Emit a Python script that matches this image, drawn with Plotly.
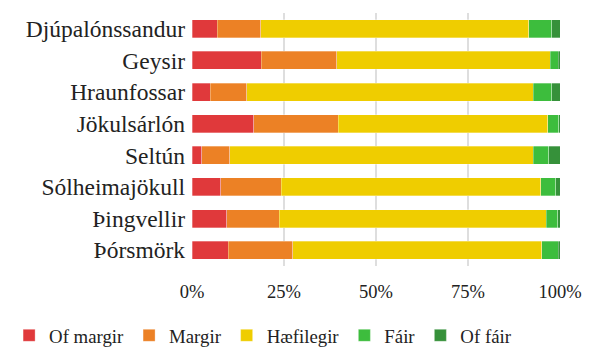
import plotly.graph_objects as go

# Share of answers (%) per site
sites = ["Djúpalónssandur", "Geysir", "Hraunfossar", "Jökulsárlón",
         "Seltún", "Sólheimajökull", "Þingvellir", "Þórsmörk"]
of_margir = [6.9, 18.8, 4.9, 16.8, 2.7, 7.8, 9.5, 9.9]
margir    = [11.8, 20.5, 10.0, 22.9, 7.6, 16.5, 14.2, 17.5]
haefilegir = [72.8, 58.0, 77.8, 57.0, 82.4, 70.5, 72.5, 67.7]
fair      = [6.3, 2.2, 5.1, 2.9, 4.2, 4.0, 3.2, 4.4]
of_fair   = [2.2, 0.5, 2.2, 0.4, 3.1, 1.2, 0.6, 0.5]
tick_vals = [0, 25, 50, 75, 100]
tick_text = ["0%", "25%", "50%", "75%", "100%"]

series = [
    ("Of margir", of_margir, "#E0393B"),
    ("Margir", margir, "#EC8125"),
    ("Hæfilegir", haefilegir, "#EFCD00"),
    ("Fáir", fair, "#3DBD3D"),
    ("Of fáir", of_fair, "#36913A"),
]

SERIF = "Liberation Serif"

fig = go.Figure()
for name, vals, color in series:
    fig.add_trace(go.Bar(
        y=sites, x=vals, name=name, orientation="h",
        marker=dict(color=color, line=dict(color="rgba(255,255,255,0.5)", width=0.6)),
        width=0.57,
    ))

fig.update_layout(
    template="none",
    barmode="stack",
    width=594, height=354,
    margin=dict(l=192, r=34, t=13, b=88, autoexpand=False),
    paper_bgcolor="white", plot_bgcolor="white",
    font=dict(family=SERIF, color="#222", size=18),
    showlegend=True,
    legend=dict(orientation="h", x=-0.497, xanchor="left", y=-0.2, yanchor="top",
                font=dict(size=18.8, family=SERIF, color="#222"), itemwidth=30,
                traceorder="normal"),
    xaxis=dict(range=[0, 100], tickvals=tick_vals, ticktext=tick_text,
               showgrid=True, gridcolor="#DEDEDE", gridwidth=1.5,
               zeroline=False, showline=False, ticks="",
               tickfont=dict(size=18.5, family=SERIF, color="#222"), ticklabelstandoff=12),
    yaxis=dict(categoryorder="array", categoryarray=sites, autorange="reversed",
               showgrid=False, zeroline=False, showline=False, ticks="",
               tickfont=dict(size=23.5, family=SERIF, color="#222"), ticklabelstandoff=6),
)

fig.write_html("out.html")
